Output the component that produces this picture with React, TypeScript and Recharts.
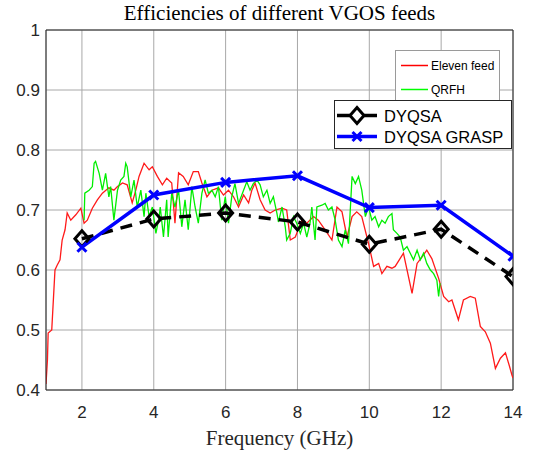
import React from 'react';
import {
    LineChart,
    Line,
    XAxis,
    YAxis,
    CartesianGrid,
    ReferenceLine,
    Legend
} from 'recharts';

// measured points (GHz) for the DYQSA feed, simulated and GRASP
const feedFreqs = [2, 4, 6, 8, 10, 12, 14];
const dyqsaEff = [0.652, 0.685, 0.695, 0.68, 0.643, 0.668, 0.589];
const dyqsaGraspEff = [0.638, 0.725, 0.746, 0.757, 0.704, 0.708, 0.623];

// Eleven feed (red)
const elevenFreqs = [
    1.0, 1.04, 1.06, 1.16, 1.25, 1.31, 1.39, 1.45, 1.53, 1.59,
    1.69, 1.83, 1.97, 2.06, 2.15, 2.29, 2.43, 2.57, 2.75, 2.89,
    2.99, 3.13, 3.26, 3.4, 3.5, 3.59, 3.73, 3.87, 3.96, 4.1,
    4.24, 4.36, 4.5, 4.59, 4.69, 4.82, 4.96, 5.1, 5.24, 5.34,
    5.48, 5.62, 5.8, 5.94, 6.08, 6.22, 6.36, 6.5, 6.64, 6.73,
    6.82, 6.96, 7.1, 7.24, 7.38, 7.57, 7.7, 7.8, 7.94, 8.12,
    8.26, 8.45, 8.58, 8.77, 8.96, 9.1, 9.24, 9.38, 9.52, 9.65,
    9.79, 9.98, 10.12, 10.26, 10.35, 10.49, 10.63, 10.72, 10.95, 11.19,
    11.33, 11.47, 11.6, 11.74, 11.93, 12.07, 12.21, 12.3, 12.48, 12.62,
    12.81, 12.95, 13.09, 13.23, 13.37, 13.51, 13.65, 13.79, 13.9, 13.97,
    14.0
];
const elevenEff = [
    0.41, 0.45, 0.495, 0.5, 0.6, 0.608, 0.617, 0.65, 0.667, 0.695,
    0.683, 0.692, 0.703, 0.678, 0.683, 0.703, 0.717, 0.728, 0.737, 0.733,
    0.739, 0.745, 0.742, 0.712, 0.733, 0.756, 0.778, 0.767, 0.772, 0.756,
    0.742, 0.753, 0.745, 0.678, 0.762, 0.756, 0.742, 0.764, 0.764, 0.745,
    0.722, 0.733, 0.737, 0.725, 0.733, 0.722, 0.705, 0.725, 0.712, 0.733,
    0.745, 0.717, 0.7, 0.695, 0.7, 0.703, 0.7, 0.65, 0.655, 0.683,
    0.678, 0.689, 0.683, 0.667, 0.65, 0.705, 0.697, 0.655, 0.689, 0.697,
    0.689, 0.644, 0.606, 0.611, 0.594, 0.606, 0.603, 0.606, 0.628, 0.561,
    0.611, 0.622, 0.633, 0.619, 0.586, 0.556, 0.547, 0.55, 0.517, 0.55,
    0.556, 0.553, 0.506, 0.497, 0.478, 0.436, 0.453, 0.462, 0.44, 0.425,
    0.42
];

// QRFH (green)
const qrfhFreqs = [
    2.06, 2.08, 2.2, 2.29, 2.34, 2.38, 2.48, 2.57, 2.66, 2.75,
    2.8, 2.89, 2.99, 3.08, 3.17, 3.22, 3.26, 3.36, 3.45, 3.54,
    3.64, 3.73, 3.78, 3.87, 3.96, 4.06, 4.15, 4.18, 4.27, 4.36,
    4.4, 4.5, 4.59, 4.69, 4.78, 4.87, 4.96, 5.06, 5.15, 5.24,
    5.34, 5.43, 5.52, 5.62, 5.71, 5.8, 5.89, 5.99, 6.08, 6.17,
    6.26, 6.36, 6.5, 6.59, 6.68, 6.77, 6.87, 6.96, 7.05, 7.15,
    7.24, 7.33, 7.43, 7.47, 7.57, 7.66, 7.7, 7.8, 7.89, 7.98,
    8.08, 8.17, 8.26, 8.35, 8.4, 8.49, 8.54, 8.68, 8.77, 8.86,
    8.96, 9.05, 9.14, 9.24, 9.33, 9.42, 9.52, 9.61, 9.7, 9.79,
    9.89, 9.98, 10.07, 10.16, 10.26, 10.35, 10.44, 10.53, 10.63, 10.67,
    10.77, 10.86, 10.95, 11.05, 11.14, 11.23, 11.33, 11.42, 11.51, 11.6,
    11.7, 11.79, 11.88, 11.93, 11.97
];
const qrfhEff = [
    0.683, 0.728, 0.733, 0.739, 0.778, 0.781, 0.761, 0.733, 0.761, 0.722,
    0.739, 0.683, 0.733, 0.75, 0.756, 0.778, 0.772, 0.722, 0.75, 0.705,
    0.733, 0.689, 0.728, 0.689, 0.705, 0.661, 0.689, 0.705, 0.655, 0.717,
    0.655, 0.728, 0.705, 0.733, 0.672, 0.717, 0.667, 0.739, 0.705, 0.678,
    0.728, 0.75, 0.728, 0.733, 0.722, 0.739, 0.683, 0.722, 0.678, 0.722,
    0.744, 0.711, 0.733, 0.747, 0.733, 0.744, 0.75, 0.742, 0.722, 0.733,
    0.711, 0.722, 0.694, 0.68, 0.705, 0.672, 0.65, 0.661, 0.689, 0.678,
    0.661, 0.678, 0.655, 0.678, 0.705, 0.65, 0.705, 0.708, 0.711, 0.7,
    0.705, 0.683, 0.65, 0.639, 0.667, 0.644, 0.756, 0.744, 0.756, 0.733,
    0.689, 0.705, 0.683, 0.689, 0.672, 0.683, 0.678, 0.689, 0.694, 0.667,
    0.661, 0.655, 0.633, 0.639, 0.628, 0.617, 0.633, 0.617, 0.628, 0.611,
    0.6, 0.594, 0.583, 0.556, 0.578
];

const xTicks = [2, 4, 6, 8, 10, 12, 14];
const yTicks = [0.4, 0.5, 0.6, 0.7, 0.8, 0.9, 1];

const toPoints = (fs: number[], vs: number[]) => fs.map((f, i) => ({ f, v: vs[i] }));
const elevenData = toPoints(elevenFreqs, elevenEff);
const qrfhData = toPoints(qrfhFreqs, qrfhEff);
const dyqsaData = toPoints(feedFreqs, dyqsaEff);
const graspData = toPoints(feedFreqs, dyqsaGraspEff);

const SANS = '"Liberation Sans", Arial, Helvetica, sans-serif';
const SERIF = '"Liberation Serif", "Times New Roman", serif';

const diamondPts = (cx: number, cy: number) =>
    `${cx},${cy - 8} ${cx + 7},${cy} ${cx},${cy + 8} ${cx - 7},${cy}`;

const DiamondDot = (props: any) => {
    const { cx, cy, index } = props;
    if (cx == null || cy == null) return null;
    return (
        <polygon key={`dia-${index}`} points={diamondPts(cx, cy)}
            fill="none" stroke="#000" strokeWidth={3} strokeLinejoin="miter" />
    );
};

const CrossDot = (props: any) => {
    const { cx, cy, index } = props;
    if (cx == null || cy == null) return null;
    const s = 4.5;
    return (
        <g key={`x-${index}`} stroke="#0000ff" strokeWidth={3}>
            <line x1={cx - s} y1={cy - s} x2={cx + s} y2={cy + s} />
            <line x1={cx - s} y1={cy + s} x2={cx + s} y2={cy - s} />
        </g>
    );
};

// title + the two MATLAB-style legend boxes, drawn on top of the plot
const Overlay = () => (
    <svg width={533} height={451} style={{ position: 'absolute', left: 0, top: 0 }}>
        <text x={279.5} y={20} textAnchor="middle" fontFamily={SERIF} fontSize={21} fill="#000">
            Efficiencies of different VGOS feeds
        </text>
        <rect x={395.5} y={50.5} width={104} height={52} fill="#fff" stroke="#9a9a9a" strokeWidth={1} />
        <line x1={401} y1={65.5} x2={428} y2={65.5} stroke="#ff0000" strokeWidth={1.5} />
        <text x={431} y={65.5} dominantBaseline="central" fontFamily={SANS} fontSize={12} fill="#000">Eleven feed</text>
        <line x1={401} y1={89.5} x2={428} y2={89.5} stroke="#00ff00" strokeWidth={1.5} />
        <text x={431} y={89.5} dominantBaseline="central" fontFamily={SANS} fontSize={12} fill="#000">QRFH</text>

        <rect x={334.5} y={100.5} width={177} height={48} fill="#fff" stroke="#262626" strokeWidth={1} />
        <line x1={337} y1={115.5} x2={377} y2={115.5} stroke="#000" strokeWidth={3.5} />
        <polygon points={diamondPts(357, 115.5)} fill="#fff" stroke="#000" strokeWidth={3} />
        <text x={384} y={115.5} dominantBaseline="central" fontFamily={SANS} fontSize={16.5} fill="#000">DYQSA</text>
        <line x1={337} y1={136.5} x2={377} y2={136.5} stroke="#0000ff" strokeWidth={3.5} />
        <g stroke="#0000ff" strokeWidth={3}>
            <line x1={352.5} y1={132} x2={361.5} y2={141} />
            <line x1={352.5} y1={141} x2={361.5} y2={132} />
        </g>
        <text x={384} y={136.5} dominantBaseline="central" fontFamily={SANS} fontSize={16.5} fill="#000">DYQSA GRASP</text>
    </svg>
);

const App: React.FC = () => {
    return (
        <div style={{ position: 'absolute', left: 0, top: 0, width: 533, height: 451, background: '#fff' }}>
            <LineChart width={533} height={451} margin={{ top: 30, right: 20, bottom: 0, left: 0 }}>
                <CartesianGrid stroke="#a8a8a8" strokeWidth={1} />
                <XAxis
                    dataKey="f"
                    type="number"
                    domain={[1, 14]}
                    ticks={xTicks}
                    allowDataOverflow
                    height={61}
                    tickLine={false}
                    tickMargin={10}
                    axisLine={{ stroke: '#262626' }}
                    tick={{ fontSize: 17, fill: '#262626', fontFamily: SANS }}
                    label={{ value: 'Frequency (GHz)', position: 'insideBottom', offset: 6, fontSize: 21, fill: '#262626', fontFamily: SERIF }}
                />
                <YAxis
                    type="number"
                    domain={[0.4, 1]}
                    ticks={yTicks}
                    allowDataOverflow
                    width={46}
                    tickLine={false}
                    tickMargin={0}
                    axisLine={{ stroke: '#262626' }}
                    tick={{ fontSize: 17, fill: '#262626', fontFamily: SANS }}
                    tickFormatter={(v: number) => (v === 1 ? '1' : v.toFixed(1))}
                />
                <ReferenceLine y={1} stroke="#262626" strokeWidth={1} />
                <ReferenceLine x={14} stroke="#262626" strokeWidth={1} />
                <Line data={elevenData} dataKey="v" type="linear" stroke="#ff1a1a" strokeWidth={1.3}
                    dot={false} activeDot={false} isAnimationActive={false} />
                <Line data={qrfhData} dataKey="v" type="linear" stroke="#00ee00" strokeWidth={1.3}
                    dot={false} activeDot={false} isAnimationActive={false} />
                <Line data={dyqsaData} dataKey="v" type="linear" stroke="#000" strokeWidth={3.5}
                    strokeDasharray="12 8" dot={DiamondDot} activeDot={false} isAnimationActive={false} />
                <Line data={graspData} dataKey="v" type="linear" stroke="#0000ff" strokeWidth={3.5}
                    dot={CrossDot} activeDot={false} isAnimationActive={false} />
                <Legend
                    layout="horizontal"
                    verticalAlign="middle"
                    align="center"
                    wrapperStyle={{ left: 0, top: 0, width: 533, height: 451, pointerEvents: 'none' }}
                    content={() => <Overlay />}
                />
            </LineChart>
        </div>
    );
};

export default App;
